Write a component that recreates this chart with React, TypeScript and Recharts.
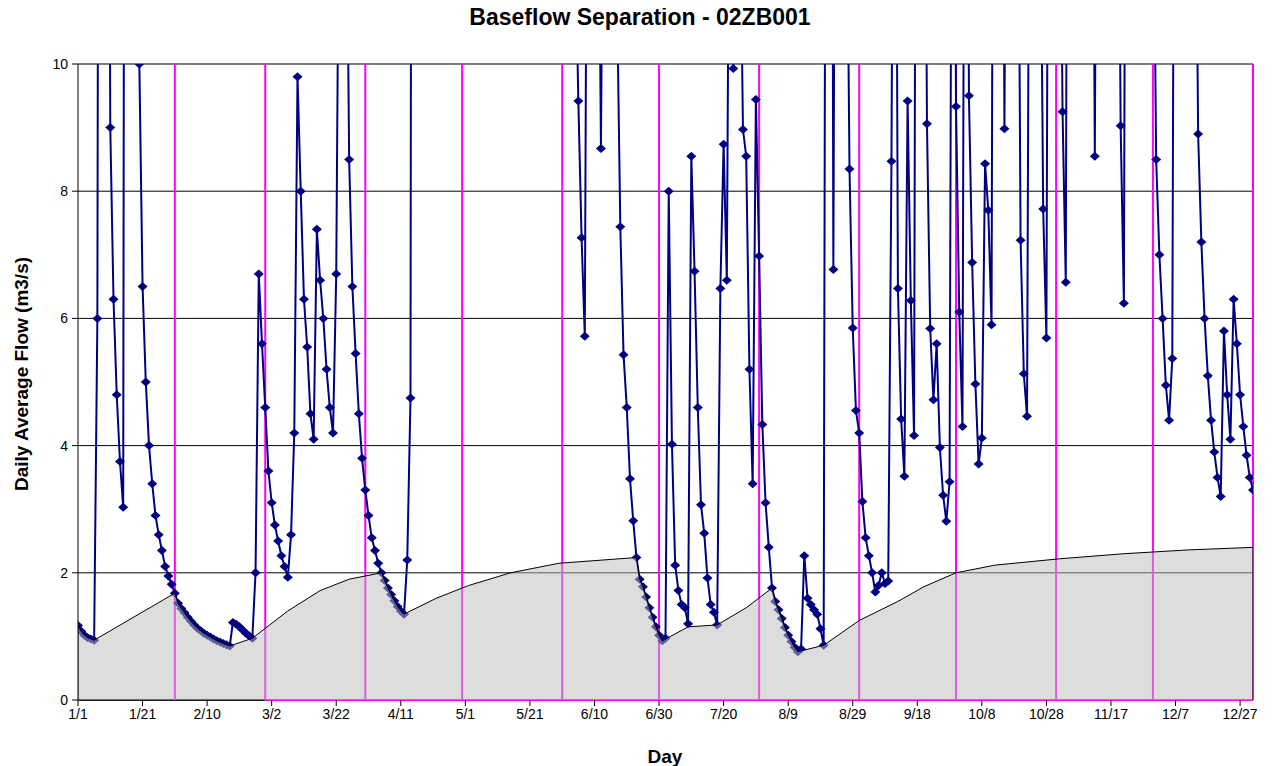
import React from "react";
import {
  ComposedChart,
  Line,
  Area,
  XAxis,
  YAxis,
  CartesianGrid,
  ReferenceLine,
} from "recharts";

const FONT = '"Liberation Sans", Arial, sans-serif';

// daily average flow (m3/s), one value per day; above 10 runs off the top
const janFlow = [1.17, 1.08, 1.02, 0.98, 0.96, 0.94, 6.0, 35, 28, 24, 9.0, 6.3, 4.8, 3.75, 3.03, 40, 32, 26, 22, 10.0, 6.5, 5.0, 4.0, 3.4, 2.9, 2.6, 2.35, 2.1, 1.95, 1.82, 1.68];
const febFlow = [1.52, 1.44, 1.37, 1.3, 1.24, 1.18, 1.13, 1.09, 1.05, 1.02, 0.99, 0.96, 0.93, 0.91, 0.89, 0.87, 0.85, 1.22, 1.19, 1.15, 1.1, 1.05, 1.01, 0.97, 2.0, 6.7, 5.6, 4.6];
const marFlow = [3.6, 3.1, 2.75, 2.5, 2.27, 2.1, 1.93, 2.6, 4.2, 9.8, 8.0, 6.3, 5.55, 4.5, 4.1, 7.4, 6.6, 6.0, 5.2, 4.6, 4.2, 6.7, 14, 20, 14, 8.5, 6.5, 5.45, 4.5, 3.8, 3.3];
const aprFlow = [2.9, 2.55, 2.35, 2.15, 2.0, 1.88, 1.76, 1.66, 1.56, 1.47, 1.4, 1.35, 2.2, 4.75, 45, 38, 30, 26, 22, 20, 24, 30, 27, 23, 20, 18, 17, 19, 22, 25];
const mayFlow = [28, 32, 35, 30, 26, 24, 22, 21, 20, 25, 33, 38, 34, 29, 26, 23, 21, 19, 18, 17, 16, 18, 22, 26, 24, 21, 19, 17, 16, 15, 14];
const junFlow = [14, 16, 18, 12, 9.42, 7.27, 5.72, 18, 24, 20, 15, 8.67, 16, 22, 19, 15, 11, 7.44, 5.43, 4.6, 3.48, 2.82, 2.24, 1.9, 1.78, 1.62, 1.45, 1.3, 1.15, 1.02];
const julFlow = [0.93, 0.97, 8.0, 4.02, 2.12, 1.72, 1.5, 1.45, 1.2, 8.55, 6.74, 4.6, 3.07, 2.62, 1.92, 1.5, 1.38, 1.18, 6.47, 8.74, 6.6, 16, 9.93, 18, 13, 8.97, 8.55, 5.2, 3.4, 9.44, 6.98];
const augFlow = [4.33, 3.1, 2.4, 1.76, 1.55, 1.42, 1.28, 1.14, 1.02, 0.92, 0.83, 0.76, 0.8, 2.27, 1.6, 1.5, 1.42, 1.35, 1.12, 0.86, 25, 30, 6.77, 22, 30, 24, 14, 8.35, 5.85, 4.55, 4.2];
const sepFlow = [3.12, 2.55, 2.27, 2.0, 1.7, 1.8, 2.0, 1.83, 1.87, 8.47, 20, 6.47, 4.42, 3.52, 9.42, 6.28, 4.16, 25, 30, 18, 9.06, 5.84, 4.72, 5.6, 3.97, 3.22, 2.81, 3.43, 20, 9.33];
const octFlow = [6.1, 4.3, 22, 9.5, 6.88, 4.97, 3.71, 4.12, 8.43, 7.7, 5.9, 25, 30, 20, 8.98, 20, 28, 22, 16, 7.23, 5.13, 4.46, 18, 26, 20, 14, 7.72, 5.69, 22, 28, 20];
const novFlow = [15, 9.25, 6.57, 25, 30, 26, 22, 20, 24, 28, 18, 8.55, 20, 26, 30, 24, 20, 22, 16, 9.03, 6.24, 24, 30, 28, 24, 20, 22, 26, 20, 14];
const decFlow = [8.5, 7.0, 6.0, 4.95, 4.4, 5.37, 22, 28, 24, 20, 18, 20, 15, 8.9, 7.2, 6.0, 5.1, 4.4, 3.9, 3.5, 3.2, 5.8, 4.8, 4.1, 6.3, 5.6, 4.8, 4.3, 3.85, 3.5, 3.3];

// separated baseflow, read at its break points
const baseDays = [1, 2, 3, 4, 5, 6, 31, 32, 33, 34, 35, 36, 37, 38, 39, 40, 41, 42, 43, 44, 45, 46, 47, 48, 55, 66, 76, 85, 95, 96, 97, 98, 99, 100, 101, 102, 112, 122, 135, 150, 174, 175, 176, 177, 178, 179, 180, 181, 182, 190, 199, 208, 216, 217, 218, 219, 220, 221, 222, 223, 224, 232, 243, 255, 263, 273, 285, 305, 325, 345, 365];
const baseValues = [1.17, 1.08, 1.02, 0.98, 0.96, 0.94, 1.68, 1.52, 1.44, 1.37, 1.3, 1.24, 1.18, 1.13, 1.09, 1.05, 1.02, 0.99, 0.96, 0.93, 0.91, 0.89, 0.87, 0.85, 0.97, 1.4, 1.72, 1.9, 2.0, 1.88, 1.76, 1.66, 1.56, 1.47, 1.4, 1.35, 1.6, 1.8, 2.0, 2.15, 2.24, 1.9, 1.78, 1.62, 1.45, 1.3, 1.15, 1.02, 0.93, 1.15, 1.18, 1.45, 1.76, 1.55, 1.42, 1.28, 1.14, 1.02, 0.92, 0.83, 0.76, 0.86, 1.25, 1.55, 1.78, 2.0, 2.12, 2.22, 2.3, 2.36, 2.4];

const monthEnds = [31, 59, 90, 120, 151, 181, 212, 243, 273, 304, 334, 365];
const tickDays = [1, 21, 41, 61, 81, 101, 121, 141, 161, 181, 201, 221, 241, 261, 281, 301, 321, 341, 361];
const tickLabels = ["1/1", "1/21", "2/10", "3/2", "3/22", "4/11", "5/1", "5/21", "6/10", "6/30", "7/20", "8/9", "8/29", "9/18", "10/8", "10/28", "11/17", "12/7", "12/27"];
const yTicks = [0, 2, 4, 6, 8, 10];

const flow = [
  ...janFlow, ...febFlow, ...marFlow, ...aprFlow, ...mayFlow, ...junFlow,
  ...julFlow, ...augFlow, ...sepFlow, ...octFlow, ...novFlow, ...decFlow,
];
const flowData = flow.map((v, i) => ({ day: i + 1, flow: v }));
const baseData = [
  { day: baseDays[0], base: 0 },
  ...baseDays.map((d, i) => ({ day: d, base: baseValues[i] })),
  { day: baseDays[baseDays.length - 1], base: 0 },
];

const W = 1256;
const H = 750;
const margin = { top: 56, right: 11, bottom: 28, left: 0 };

const Diamond = (props: any) => {
  const { cx, cy, payload, index } = props;
  if (cx == null || cy == null || payload.flow > 10.1) return <g key={index} />;
  return (
    <path
      key={index}
      d={`M${cx},${cy - 4.5}L${cx + 5},${cy}L${cx},${cy + 4.5}L${cx - 5},${cy}Z`}
      fill="#000080"
    />
  );
};

export default function App() {
  const tick = { fontSize: 14, fill: "#000", fontFamily: FONT };
  return (
    <div style={{ position: "relative", width: W, height: 758, fontFamily: FONT }}>
      <div
        style={{
          position: "absolute", left: 332, width: 600, top: -4, textAlign: "center",
          fontSize: 23, fontWeight: "bold",
        }}
      >
        Baseflow Separation - 02ZB001
      </div>
      <div
        style={{
          position: "absolute", left: 14, top: 366, transform: "translate(-50%, -50%) rotate(-90deg)",
          whiteSpace: "nowrap", fontSize: 19, fontWeight: "bold",
        }}
      >
        Daily Average Flow (m3/s)
      </div>
      <div
        style={{
          position: "absolute", left: 657, top: 749, transform: "translate(-50%, -50%)",
          fontSize: 19, fontWeight: "bold",
        }}
      >
        Day
      </div>

      {/* flow series, month markers and axes */}
      <ComposedChart width={W} height={H} margin={margin}>
        <CartesianGrid horizontal vertical={false} stroke="#000" strokeWidth={1} />
        <XAxis
          dataKey="day"
          type="number"
          domain={[1, 365]}
          ticks={tickDays}
          interval={0}
          tickFormatter={(v: number) => tickLabels[tickDays.indexOf(v)]}
          tick={tick}
          tickSize={6}
          tickMargin={3}
          height={30}
          stroke="#000"
          axisLine={false}
          allowDataOverflow
        />
        <YAxis
          type="number"
          domain={[0, 10]}
          ticks={yTicks}
          tick={tick}
          tickSize={6}
          tickMargin={4}
          width={70}
          stroke="#000"
          allowDataOverflow
        />
        <ReferenceLine
          segment={[{ x: 1, y: 0 }, { x: monthEnds[1], y: 0 }]}
          stroke="#000"
          strokeWidth={1.5}
        />
        <ReferenceLine
          segment={[{ x: monthEnds[1], y: 0 }, { x: 365, y: 0 }]}
          stroke="#FF00FF"
          strokeWidth={2}
        />
        {monthEnds.map((d) => (
          <ReferenceLine key={d} x={d} stroke="#FF00FF" strokeWidth={2} />
        ))}
        <Line
          data={flowData}
          dataKey="flow"
          type="linear"
          stroke="#000080"
          strokeWidth={2}
          dot={Diamond}
          activeDot={false}
          isAnimationActive={false}
        />
      </ComposedChart>

      {/* baseflow drawn over everything, half transparent */}
      <div style={{ position: "absolute", left: 0, top: 0, pointerEvents: "none" }}>
        <ComposedChart
          width={W}
          height={H}
          margin={{ top: margin.top, right: margin.right, bottom: margin.bottom + 30, left: margin.left + 70 }}
        >
          <XAxis dataKey="day" type="number" domain={[1, 365]} hide allowDataOverflow />
          <YAxis type="number" domain={[0, 10]} hide allowDataOverflow />
          <Area
            data={baseData}
            dataKey="base"
            type="linear"
            stroke="#000"
            strokeWidth={1}
            fill="#BBBBBB"
            fillOpacity={0.5}
            isAnimationActive={false}
          />
        </ComposedChart>
      </div>
    </div>
  );
}
